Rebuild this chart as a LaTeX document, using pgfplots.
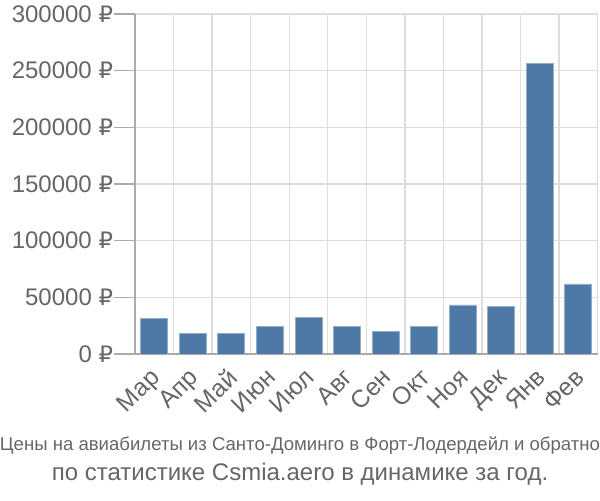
\documentclass[border=0pt]{standalone}
\usepackage{fontspec}
\setmainfont{Liberation Sans}
\newfontfamily\rubfont{DejaVu Sans}
\usepackage{pgfplots}
\pgfplotsset{compat=1.18}
\definecolor{barblue}{RGB}{78,121,167}
\definecolor{txtgray}{RGB}{102,102,102}
\definecolor{gridgray}{RGB}{221,221,221}
\definecolor{axisgray}{RGB}{170,170,170}
\begin{document}
\begin{tikzpicture}[x=1pt,y=1pt]
\path[use as bounding box] (0,0) rectangle (450,375);
\begin{axis}[
  at={(101.25pt,109.5pt)}, anchor=south west,
  scale only axis,
  width=347pt, height=255pt,
  xmin=-0.5, xmax=11.5,
  ymin=0, ymax=300000,
  axis x line*=bottom, axis y line*=left,
  axis line style={axisgray, line width=1pt},
  xtick={0,...,11},
  xticklabels={Мар,Апр,Май,Июн,Июл,Авг,Сен,Окт,Ноя,Дек,Янв,Фев},
  minor xtick={-0.5,0.5,...,11.5},
  xminorgrids,
  minor grid style={gridgray, line width=1pt},
  xtick style={draw=none},
  minor tick length=14pt,
  minor x tick style={axisgray, line width=1pt},
  ytick={0,50000,...,300000},
  ymajorgrids,
  major grid style={gridgray, line width=1pt},
  major tick length=16pt,
  y tick style={axisgray, line width=1pt},
  tick align=outside,
  scaled y ticks=false,
  yticklabel={\pgfmathprintnumber[fixed,1000 sep={},assume math mode=true]{\tick}~{\rubfont\fontsize{17}{20}\selectfont ₽}},
  yticklabel style={font=\fontsize{18}{20}\selectfont, text=txtgray, xshift=3pt},
  xticklabel style={font=\fontsize{18.5}{20}\selectfont, text=txtgray, rotate=45, anchor=north east, xshift=5.2pt, yshift=10.7pt},
]
\addplot[ybar, bar width=0.7, fill=barblue, draw=barblue!60!white, line width=0.6pt] coordinates {
  (0,31000) (1,18100) (2,18100) (3,24000) (4,31900) (5,24000)
  (6,19600) (7,24600) (8,43300) (9,41600) (10,256000) (11,61800)
};
\end{axis}
\node[text=txtgray] at (225,40.5) {\resizebox{450pt}{!}{\fontsize{17}{20}\selectfont Цены на авиабилеты из Санто-Доминго в Форт-Лодердейл и обратно}};
\node[text=txtgray, font=\fontsize{18}{21}\selectfont] at (225,19.5) {по статистике Csmia.aero в динамике за год.};
\end{tikzpicture}
\end{document}
